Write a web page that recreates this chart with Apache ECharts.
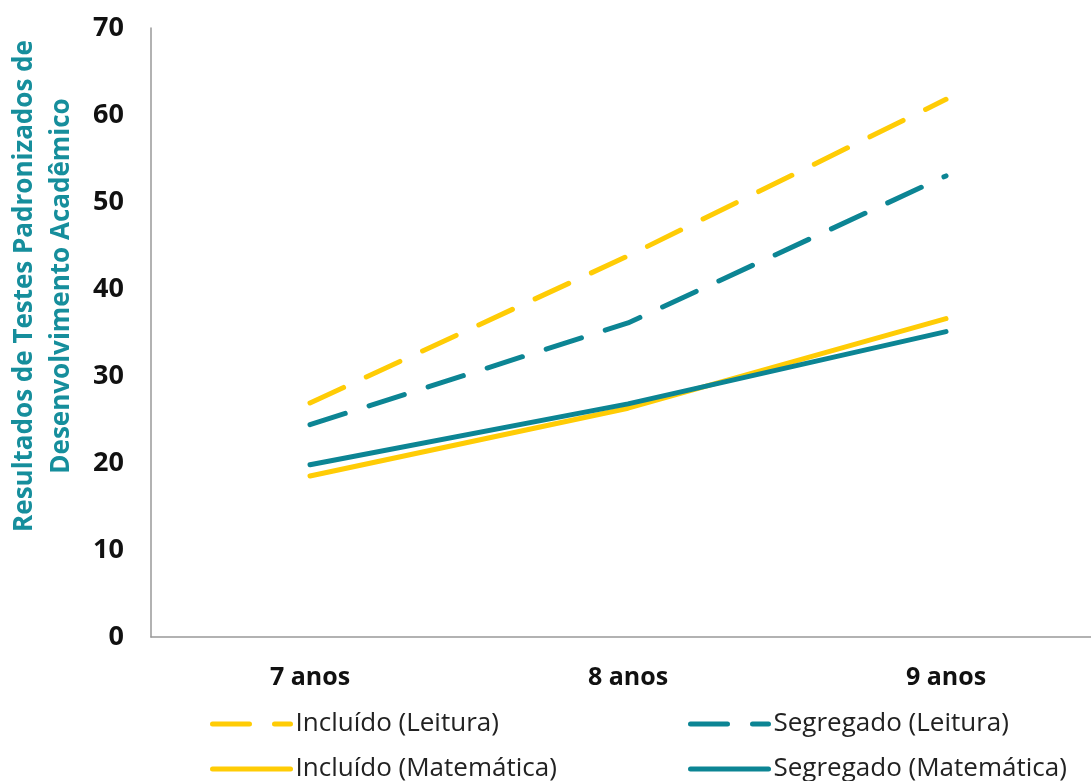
<!DOCTYPE html>
<html><head><meta charset="utf-8">
<script src="https://cdn.jsdelivr.net/npm/echarts@6/dist/echarts.min.js"></script>
<style>html,body{margin:0;padding:0;background:#fff;overflow:hidden;width:1091px;height:781px}#c{width:1105px;height:781px}</style>
</head><body><div id="c"></div>
<script>
var categories = ['7 anos', '8 anos', '9 anos'];
var incluidoLeitura = [26.9, 43.8, 61.8];
var segregadoLeitura = [24.4, 36.1, 53.0];
var incluidoMatematica = [18.5, 26.3, 36.6];
var segregadoMatematica = [19.8, 26.8, 35.1];
var seriesNames = ['Incluído (Leitura)', 'Segregado (Leitura)', 'Incluído (Matemática)', 'Segregado (Matemática)'];
var yTicks = [0, 10, 20, 30, 40, 50, 60, 70];

var YELLOW = '#FFCC05';
var TEAL = '#0C8594';
var FONT = '"Open Sans", "Noto Sans", sans-serif';
var dash = [37, 25];

function mkSeries(name, data, color, dashed) {
  return {
    name: name, type: 'line', data: data, symbol: 'none', smooth: false,
    lineStyle: { color: color, width: 5, type: dashed ? dash : 'solid', cap: 'round', join: 'round' },
    itemStyle: { color: color }
  };
}
function mkLegend(name, left, top) {
  return {
    data: [name], left: left, top: top, orient: 'horizontal',
    itemWidth: 78, itemHeight: 14, itemGap: 0, itemTextGap: 5,
    itemStyle: { color: 'rgba(0,0,0,0)', borderWidth: 0, opacity: 0 },
    lineStyle: { width: 5, cap: 'round' },
    textStyle: { fontFamily: FONT, fontSize: 26, color: '#222' },
    selectedMode: false
  };
}
var chart = echarts.init(document.getElementById('c'), null, { renderer: 'canvas' });
chart.setOption({
  animation: false,
  backgroundColor: '#fff',
  grid: { left: 151, right: 0, top: 28, bottom: 144, containLabel: false },
  xAxis: {
    type: 'category', data: categories, boundaryGap: true,
    axisLine: { show: true, lineStyle: { color: '#999', width: 1.5 } },
    axisTick: { show: false },
    axisLabel: { margin: 28, fontFamily: FONT, fontSize: 25, fontWeight: 'bold', color: '#111' }
  },
  yAxis: {
    type: 'value', min: yTicks[0], max: yTicks[yTicks.length - 1], interval: 10,
    axisLine: { show: true, lineStyle: { color: '#999', width: 1.5 } },
    axisTick: { show: false },
    splitLine: { show: false },
    axisLabel: { margin: 27, fontFamily: FONT, fontSize: 27, fontWeight: 'bold', color: '#111' }
  },
  legend: [
    mkLegend(seriesNames[0], 205, 706),
    mkLegend(seriesNames[1], 683, 706),
    mkLegend(seriesNames[2], 205, 751),
    mkLegend(seriesNames[3], 683, 751)
  ],
  graphic: [{
    type: 'text', x: 43, y: 286, rotation: Math.PI / 2,
    style: {
      text: 'Resultados de Testes Padronizados de\nDesenvolvimento Acadêmico',
      fill: '#168E9C', font: 'bold 26px ' + FONT, align: 'center', verticalAlign: 'middle', lineHeight: 37
    }
  }],
  series: [
    mkSeries(seriesNames[0], incluidoLeitura, YELLOW, true),
    mkSeries(seriesNames[1], segregadoLeitura, TEAL, true),
    mkSeries(seriesNames[2], incluidoMatematica, YELLOW, false),
    mkSeries(seriesNames[3], segregadoMatematica, TEAL, false)
  ]
});
</script></body></html>
